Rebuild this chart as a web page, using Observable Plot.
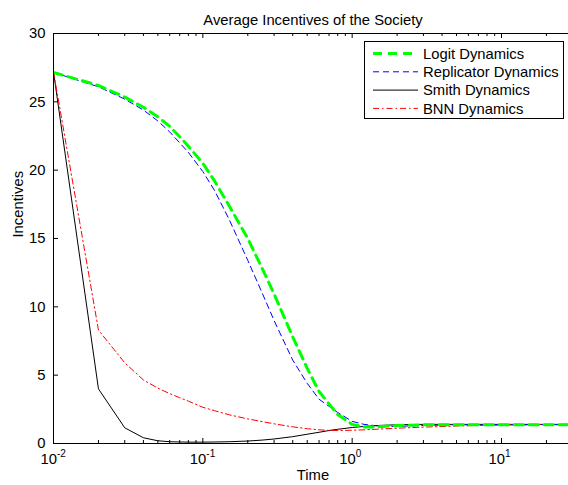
<!DOCTYPE html>
<html>
<head>
<meta charset="utf-8">
<script src="https://cdn.jsdelivr.net/npm/d3@7"></script>
<script src="https://cdn.jsdelivr.net/npm/@observablehq/plot@0.6"></script>
<style>
  body { margin: 0; background: #fff; }
  #chart svg { font-family: "Liberation Sans", Arial, Helvetica, sans-serif; }
</style>
</head>
<body>
<div id="chart"></div>
<script>
// ---- data ----
const times = [0.01, 0.02, 0.03, 0.04, 0.05, 0.06, 0.07, 0.08, 0.1, 0.12, 0.15, 0.2, 0.25, 0.3, 0.4, 0.5, 0.6, 0.7, 0.8, 1.0, 1.2, 1.5, 2, 3, 5, 7, 10, 15, 20, 28.1];
const logit      = [27.15, 26.2, 25.35, 24.6, 23.9, 23.2, 22.45, 21.75, 20.5, 19.2, 17.4, 15.0, 12.8, 10.95, 7.8, 5.5, 3.8, 2.9, 2.12, 1.4, 1.2, 1.22, 1.32, 1.37, 1.38, 1.38, 1.38, 1.38, 1.38, 1.38];
const replicator = [27.15, 26.1, 25.2, 24.4, 23.6, 22.8, 22.0, 21.3, 19.9, 18.5, 16.4, 13.4, 11.0, 9.0, 6.1, 4.4, 3.24, 2.72, 2.27, 1.62, 1.4, 1.28, 1.25, 1.32, 1.37, 1.38, 1.38, 1.38, 1.38, 1.38];
const smith      = [27.2, 4.0, 1.15, 0.42, 0.2, 0.13, 0.11, 0.1, 0.1, 0.11, 0.13, 0.18, 0.25, 0.33, 0.5, 0.68, 0.82, 0.95, 1.04, 1.17, 1.25, 1.32, 1.37, 1.4, 1.4, 1.4, 1.4, 1.4, 1.4, 1.4];
const bnn        = [27.2, 8.3, 5.9, 4.65, 4.05, 3.65, 3.35, 3.1, 2.65, 2.4, 2.1, 1.8, 1.6, 1.44, 1.22, 1.08, 1.0, 0.96, 0.95, 0.97, 1.0, 1.05, 1.12, 1.2, 1.28, 1.32, 1.35, 1.37, 1.38, 1.39];

const seriesNames = ["Logit Dynamics", "Replicator Dynamics", "Smith Dynamics", "BNN Dynamics"];
const seriesValues = [logit, replicator, smith, bnn];

const xMajorTicks = [0.01, 0.1, 1, 10];
const xTickExponents = ["-2", "-1", "0", "1"];
const yTicks = [0, 5, 10, 15, 20, 25, 30];

const titleText = "Average Incentives of the Society";
const xLabel = "Time";
const yLabel = "Incentives";

// ---- styles ----
const styles = {
  "Logit Dynamics":      {stroke: "#00ff00", width: 3,   dash: "9,6"},
  "Replicator Dynamics": {stroke: "#0000ff", width: 1,   dash: "6,4"},
  "Smith Dynamics":      {stroke: "#000000", width: 1,   dash: "none"},
  "BNN Dynamics":        {stroke: "#ff0000", width: 1,   dash: "6,3,1.5,3"}
};
const drawOrder = ["Smith Dynamics", "BNN Dynamics", "Replicator Dynamics", "Logit Dynamics"];

// ---- tidy table ----
const rows = seriesNames.flatMap((name, i) =>
  times.map((t, j) => ({name, t, v: seriesValues[i][j]})));

const minorTicks = [];
for (const m of xMajorTicks) for (let k = 2; k <= 9; k++) minorTicks.push(m * k);

const FS = 14.8;

const plot = Plot.plot({
  width: 568,
  height: 485,
  marginLeft: 53,
  marginRight: 0,
  marginTop: 33,
  marginBottom: 42,
  style: {background: "#fff", color: "#000", fontSize: FS + "px", fontFamily: "'Liberation Sans', Arial, Helvetica, sans-serif"},
  x: {type: "log", domain: [0.01, 28.1], axis: null},
  y: {domain: [0, 30], axis: null},
  marks: [
    // series
    ...drawOrder.map(name => Plot.line(rows.filter(d => d.name === name), {
      x: "t", y: "v",
      stroke: styles[name].stroke,
      strokeWidth: styles[name].width,
      strokeDasharray: styles[name].dash,
      clip: true
    })),
    // frame lines
    Plot.ruleY([0, 30], {stroke: "#000", strokeWidth: 1}),
    Plot.ruleX([0.01], {stroke: "#000", strokeWidth: 1}),
    // inward ticks
    Plot.tickX(xMajorTicks, {x: d => d, insetTop: 405, stroke: "#000"}),
    Plot.tickX(xMajorTicks, {x: d => d, insetBottom: 405, stroke: "#000"}),
    Plot.tickX(minorTicks.filter(d => d < 28.1), {x: d => d, insetTop: 407, stroke: "#000"}),
    Plot.tickX(minorTicks.filter(d => d < 28.1), {x: d => d, insetBottom: 407, stroke: "#000"}),
    Plot.tickY(yTicks, {y: d => d, insetRight: 510, stroke: "#000"}),
    // y tick labels
    Plot.axisY({ticks: yTicks, tickSize: 0, tickPadding: 8, label: null, fontSize: FS}),
    // x tick labels 10^k
    Plot.text(xMajorTicks, {x: d => d, frameAnchor: "bottom", text: () => "10", textAnchor: "end", dx: 3.5, dy: 20.5, fontSize: FS, fill: "#000"}),
    Plot.text(xMajorTicks, {x: d => d, frameAnchor: "bottom", text: (d, i) => xTickExponents[i], textAnchor: "start", dx: 3.5, dy: 13, fontSize: 10, fill: "#000"}),
    // title and axis labels
    Plot.text([titleText], {frameAnchor: "top", dx: 2, dy: -19, fontSize: FS, fill: "#000"}),
    Plot.text([xLabel], {frameAnchor: "bottom", dx: 2, dy: 36.5, fontSize: FS, fill: "#000"}),
    Plot.text([yLabel], {frameAnchor: "left", dx: -35, dy: -1, rotate: -90, fontSize: FS, fill: "#000"})
  ]
});

document.getElementById("chart").appendChild(plot);

// ---- legend (inside the plot area, top right) ----
const svg = d3.select(plot);
const lg = svg.append("g").attr("text-anchor", "start");
lg.append("rect")
  .attr("x", 364.5).attr("y", 41.5).attr("width", 199).attr("height", 77)
  .attr("fill", "#fff").attr("stroke", "#000").attr("stroke-width", 1);
seriesNames.forEach((name, i) => {
  const cy = 53.5 + i * 18.3;
  const s = styles[name];
  lg.append("line")
    .attr("x1", 373).attr("x2", 418).attr("y1", cy).attr("y2", cy)
    .attr("stroke", s.stroke).attr("stroke-width", s.width)
    .attr("stroke-dasharray", s.dash);
  lg.append("text")
    .attr("x", 423).attr("y", cy).attr("dy", "0.36em")
    .attr("text-anchor", "start")
    .attr("font-size", FS).attr("fill", "#000")
    .text(name);
});
</script>
</body>
</html>
